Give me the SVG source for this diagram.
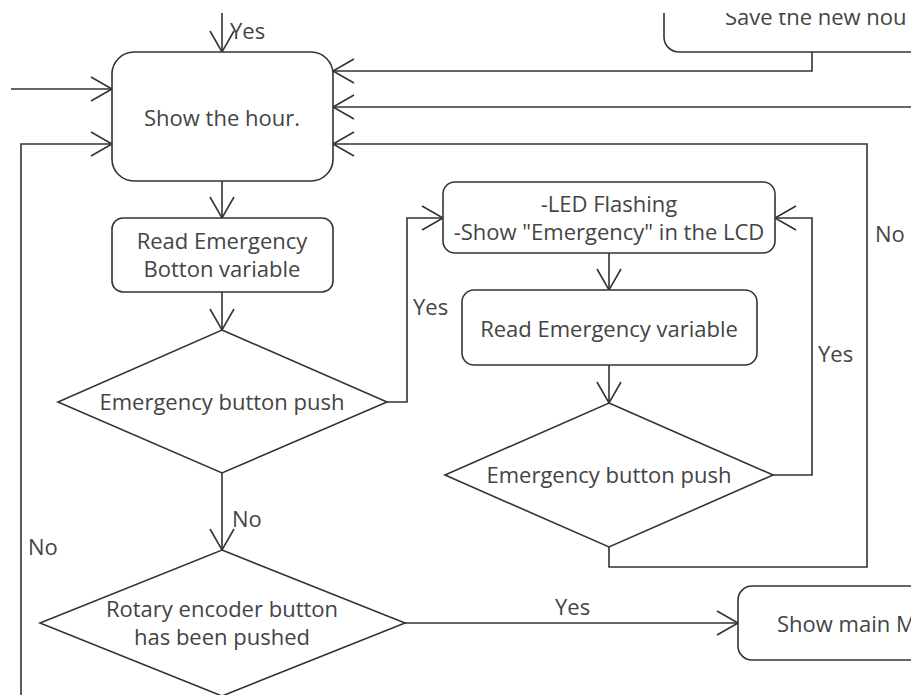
<svg xmlns="http://www.w3.org/2000/svg" width="911" height="695" viewBox="0 0 911 695">
<style>
.s{fill:#fff;stroke:#333;stroke-width:1.6}
.c{fill:none;stroke:#333;stroke-width:1.6}
text{font-family:"Open Sans","Noto Sans","Liberation Sans",sans-serif;font-size:22px;fill:#444}
.m{text-anchor:middle}
</style>
<defs>
<marker id="a" markerUnits="userSpaceOnUse" viewBox="-23 -14 25 28" refX="0" refY="0" markerWidth="25" markerHeight="28" orient="auto">
<path d="M-21,-12 L0,0 L-21,12" fill="none" stroke="#333" stroke-width="1.6"/>
</marker>
<clipPath id="top"><rect x="0" y="13" width="911" height="682"/></clipPath>
</defs>
<rect width="911" height="695" fill="#fff"/>
<g id="connectors">
<path class="c" d="M222,13 V52" marker-end="url(#a)"/>
<path class="c" d="M11,89 H112" marker-end="url(#a)"/>
<path class="c" d="M21,695 V144 H112" marker-end="url(#a)"/>
<path class="c" d="M812,52 V71 H333" marker-end="url(#a)"/>
<path class="c" d="M911,107 H333" marker-end="url(#a)"/>
<path class="c" d="M609,547 V567 H867 V144 H333" marker-end="url(#a)"/>
<path class="c" d="M222,181 V218" marker-end="url(#a)"/>
<path class="c" d="M222,292 V330" marker-end="url(#a)"/>
<path class="c" d="M387,402 H407 V218 H443" marker-end="url(#a)"/>
<path class="c" d="M609,253 V290" marker-end="url(#a)"/>
<path class="c" d="M609,365 V403" marker-end="url(#a)"/>
<path class="c" d="M773,475 H812 V218 H775" marker-end="url(#a)"/>
<path class="c" d="M222,473 V550" marker-end="url(#a)"/>
<path class="c" d="M405,623 H738" marker-end="url(#a)"/>
<text x="230" y="39">Yes</text>
<text x="413" y="315">Yes</text>
<text x="818" y="362">Yes</text>
<text x="875" y="242">No</text>
<text x="232" y="527">No</text>
<text x="28" y="555">No</text>
<text x="555" y="615">Yes</text>
</g>
<g id="save" clip-path="url(#top)">
<rect class="s" x="664" y="-60" width="300" height="112" rx="15"/>
<text x="725" y="25">Save the new hou</text>
</g>
<g id="show-hour">
<rect class="s" x="112" y="52" width="221" height="129" rx="22"/>
<text class="m" x="222" y="126">Show the hour.</text>
</g>
<g id="read-button">
<rect class="s" x="112" y="218" width="221" height="74" rx="11"/>
<text class="m" x="222" y="249">Read Emergency</text>
<text class="m" x="222" y="277">Botton variable</text>
</g>
<g id="dec-emergency1">
<polygon class="s" points="222,330 387,402 222,473 58,402"/>
<text class="m" x="222" y="410">Emergency button push</text>
</g>
<g id="led">
<rect class="s" x="443" y="182" width="332" height="71" rx="12"/>
<text class="m" x="609" y="212">-LED Flashing</text>
<text class="m" x="609" y="240">-Show "Emergency" in the LCD</text>
</g>
<g id="read-var">
<rect class="s" x="462" y="290" width="295" height="75" rx="12"/>
<text class="m" x="609" y="337">Read Emergency variable</text>
</g>
<g id="dec-emergency2">
<polygon class="s" points="609,403 773,475 609,547 445,475"/>
<text class="m" x="609" y="483">Emergency button push</text>
</g>
<g id="dec-rotary">
<polygon class="s" points="222,550 405,623 222,696 40,623"/>
<text class="m" x="222" y="617">Rotary encoder button</text>
<text class="m" x="222" y="645">has been pushed</text>
</g>
<g id="main-menu">
<rect class="s" x="738" y="586" width="260" height="74" rx="14"/>
<text x="777" y="632">Show main M</text>
</g>
</svg>
